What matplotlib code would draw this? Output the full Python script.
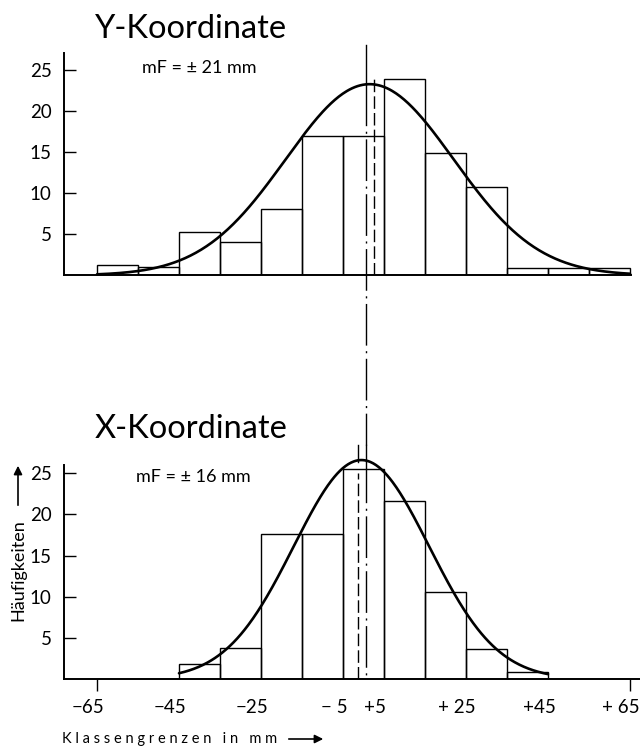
import numpy as np
import matplotlib
matplotlib.use("Agg")
import matplotlib.pyplot as plt
import matplotlib.transforms as mtransforms
from matplotlib.lines import Line2D
from matplotlib.patches import FancyArrowPatch

plt.rcParams["font.family"] = ["Lato", "DejaVu Sans"]

# class boundaries in mm (10 mm classes)
class_edges = [-65, -55, -45, -35, -25, -15, -5, 5, 15, 25, 35, 45, 55, 65]

# frequencies
y_counts = [1.2, 1.05, 5.25, 4.05, 8.1, 17.0, 17.0, 23.95, 14.85, 10.8, 0.9, 0.9, 0.85]
x_counts = [0, 0, 1.8, 3.8, 17.6, 17.6, 25.5, 21.6, 10.55, 3.6, 0.9, 0, 0]

# normal curves: peak height, centre, spread (mm), drawn range
y_peak, y_mu, y_sigma, y_range = 23.3, 1.5, 20.5, (-65, 65)
x_peak, x_mu, x_sigma, x_range = 26.6, -0.5, 16.5, (-45, 45)

# mean lines (mm)
y_mean_dash = 2.5
x_mean_dash = -1.4
common_axis = 0.5

tick_vals = [-65, -45, -25, -5, 5, 25, 45, 65]
tick_texts = ["\u221265", "\u221245", "\u221225", "\u2212 5", "+5", "+ 25", "+45", "+ 65"]

W, H = 640, 749
fig = plt.figure(figsize=(W / 100, H / 100), dpi=100)


def px_box(left, top, right, bottom):
    return [left / W, 1 - bottom / H, (right - left) / W, (bottom - top) / H]


ax_y = fig.add_axes(px_box(64, 53, 640, 275.3))
ax_x = fig.add_axes(px_box(64, 465, 640, 679))

xlim = (-73.05, 67.45)


def gauss(xs, peak, mu, sigma):
    return peak * np.exp(-0.5 * ((xs - mu) / sigma) ** 2)


def draw_panel(ax, counts, peak, mu, sigma, rng, ytop, xend):
    ax.set_xlim(*xlim)
    ax.set_ylim(0, ytop)
    for s in ["top", "right"]:
        ax.spines[s].set_visible(False)
    for s in ["left", "bottom"]:
        ax.spines[s].set_linewidth(1.4)
    ax.spines["bottom"].set_bounds(xlim[0], xend)
    ax.bar(class_edges[:-1], counts, width=10, align="edge", fill=False,
           edgecolor="black", linewidth=1.0)
    xs = np.linspace(rng[0], rng[1], 400)
    ax.plot(xs, gauss(xs, peak, mu, sigma), color="black", lw=1.9,
            solid_capstyle="round", clip_on=False)
    ax.set_yticks([5, 10, 15, 20, 25])
    ax.tick_params(axis="y", direction="in", length=8.6, width=1.0,
                   labelsize=13.5, pad=9)
    ax.patch.set_alpha(0)


draw_panel(ax_y, y_counts, y_peak, y_mu, y_sigma, y_range, 27.1, 65.3)
draw_panel(ax_x, x_counts, x_peak, x_mu, x_sigma, x_range, 26.0, 67.45)

ax_y.set_xticks([])
ax_x.set_xticks([-65, 65])
ax_x.set_xticklabels([])
ax_x.tick_params(axis="x", direction="out", length=8.6, width=1.0)

# tick labels of the class boundaries
blend = mtransforms.blended_transform_factory(ax_x.transData, fig.transFigure)
for v, t in zip(tick_vals, tick_texts):
    ax_x.text(v - 2.2, 1 - 713 / H, t, transform=blend, ha="center",
              va="baseline", fontsize=13.5)

# dashed mean lines
ax_y.plot([y_mean_dash, y_mean_dash], [0, 24.0], color="black", lw=1.0,
          dashes=(9, 3))
ax_x.plot([x_mean_dash, x_mean_dash], [0, 25.0], color="black", lw=1.0,
          dashes=(9, 3))
fx = blend
fig.add_artist(Line2D([x_mean_dash, x_mean_dash], [1 - 445 / H, 1 - 462 / H],
                      transform=fx, color="black", lw=1.0))

# common vertical axis through both panels
segments = [(45, 84, "solid"), (84, 445, "dashdot"),
            (445, 461, "solid"), (461, 679, "dashdot")]
for top, bot, style in segments:
    ln = Line2D([common_axis, common_axis], [1 - top / H, 1 - bot / H],
                transform=fx, color="black", lw=1.0)
    if style == "dashdot":
        ln.set_dashes((30, 4, 1.5, 4))
    fig.add_artist(ln)

# titles and annotations
fig.text(95 / W, 1 - 38 / H, "Y-Koordinate", fontsize=23.5, va="baseline")
fig.text(142 / W, 1 - 73 / H, "mF = \u00b1 21 mm", fontsize=13, va="baseline")
fig.text(95 / W, 1 - 438 / H, "X-Koordinate", fontsize=23.5, va="baseline")
fig.text(136 / W, 1 - 482 / H, "mF = \u00b1 16 mm", fontsize=13, va="baseline")

fig.text(18 / W, 1 - 621 / H, "H\u00e4ufigkeiten", rotation=90, fontsize=13,
         ha="center", va="bottom")
fig.add_artist(FancyArrowPatch(
    (18 / W, 1 - 508 / H), (18 / W, 1 - 463 / H), transform=fig.transFigure,
    arrowstyle="-|>,head_length=5,head_width=2.5", color="black", lw=1.2))

fig.text(62 / W, 1 - 743 / H, "K l a s s e n g r e n z e n   i n   m m",
         fontsize=10.5, va="baseline")
fig.add_artist(FancyArrowPatch(
    (286 / W, 1 - 739 / H), (326 / W, 1 - 739 / H), transform=fig.transFigure,
    arrowstyle="-|>,head_length=5,head_width=2.5", color="black", lw=1.2))

fig.savefig("out.png", dpi=100)
